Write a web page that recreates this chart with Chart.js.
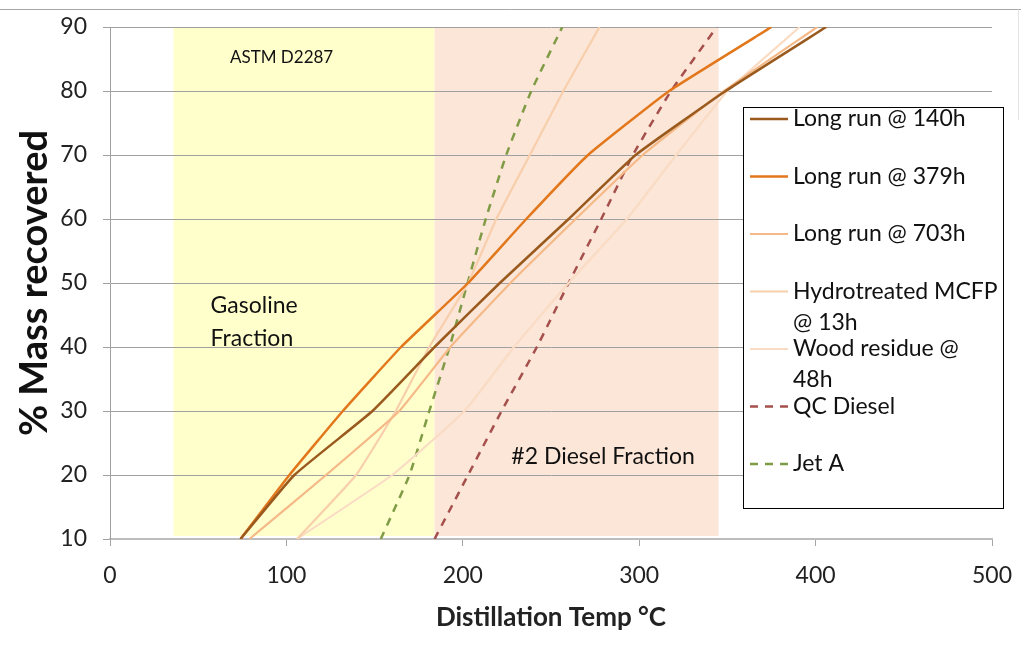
<!DOCTYPE html>
<html>
<head>
<meta charset="utf-8">
<title>Distillation curves</title>
<script src="https://cdn.jsdelivr.net/npm/chart.js@4/dist/chart.umd.min.js"></script>
<style>
  html, body { margin: 0; padding: 0; background: #fff; }
  #wrap { width: 1021px; height: 645px; position: relative; }
</style>
</head>
<body>
<div id="wrap"><canvas id="chart"></canvas></div>
<script>
// % mass recovered (y) and distillation temperature in °C (x) for each sample
const recovered = [10, 20, 30, 40, 50, 60, 70, 80, 90];
const run140 = [74, 104.5, 148.8, 184, 221, 260, 298, 349, 406];
const run379 = [74, 101.7, 132, 165, 203, 236, 271, 317, 375];
const run703 = [79, 122.5, 164, 193, 227, 264, 302, 348, 401];
const hydroMcfp = [106, 139.5, 162, 181, 203, 219, 238, 257, 277.5];
const woodResidue = [106, 160, 201, 229, 260, 293, 321, 350, 391];
const qcDiesel = [184, 203, 222, 242, 260, 278.5, 296.4, 318, 344];
const jetA = [153.5, 169.8, 181, 192.5, 202.7, 213, 224.6, 238.8, 256.4];

const xTicks = [0, 100, 200, 300, 400, 500];
const yTicks = [10, 20, 30, 40, 50, 60, 70, 80, 90];

// ASTM D2287 fraction ranges (°C)
const bandNames = ['Gasoline', '#2 Diesel'];
const bandStart = [36, 184];
const bandEnd = [184, 345];

const FONT = 'Lato, "Open Sans", sans-serif';
const bandFill = ['#ffffcc', '#fce6d8'];

const toPoints = xs => xs.map((x, i) => ({ x, y: recovered[i] }));

function series(label, xs, color, width, dash) {
    return {
        label,
        data: toPoints(xs),
        borderColor: color,
        backgroundColor: color,
        borderWidth: width,
        borderDash: dash || [],
        showLine: true,
        pointRadius: 0,
        pointHoverRadius: 0,
        tension: 0.12,
        fill: false
    };
}

const datasets = [
    series('Long run @ 140h', run140, '#9a5a1e', 2.5),
    series('Long run @ 379h', run379, '#e2771c', 2.5),
    series('Long run @ 703h', run703, '#f5b987', 2.2),
    series('Hydrotreated MCFP @ 13h', hydroMcfp, '#f8cfac', 2.2),
    series('Wood residue @ 48h', woodResidue, '#fadcc4', 2.2),
    series('QC Diesel', qcDiesel, '#a5504d', 2.5, [8, 7]),
    series('Jet A', jetA, '#7f9b45', 2.5, [8, 7])
];

// notes in data coordinates
const notes = [
    { lines: ['ASTM D2287'], x: 68, y: 85.2, size: 17, align: 'left' },
    { lines: ['Gasoline', 'Fraction'], x: 57, y: 46.4, size: 23, align: 'left' },
    { lines: ['#2 Diesel Fraction'], x: 227.5, y: 22.9, size: 23, align: 'left' }
];

const bandsPlugin = {
    id: 'bands',
    beforeDraw(chart) {
        const { ctx, chartArea, scales } = chart;
        ctx.save();
        // outer frame lines
        ctx.strokeStyle = '#a6a6a6';
        ctx.lineWidth = 1;
        ctx.beginPath();
        ctx.moveTo(0, 9.5);
        ctx.lineTo(1021, 9.5);
        ctx.stroke();
        ctx.strokeStyle = '#e4e4e4';
        ctx.beginPath();
        ctx.moveTo(1018.5, 9.5);
        ctx.lineTo(1018.5, 120);
        ctx.stroke();

        bandStart.forEach((start, i) => {
            const x0 = scales.x.getPixelForValue(start);
            const x1 = scales.x.getPixelForValue(bandEnd[i]);
            ctx.fillStyle = bandFill[i];
            ctx.fillRect(x0, chartArea.top + 1, x1 - x0, chartArea.bottom - chartArea.top - 4);
        });
        ctx.restore();
    },
    beforeDatasetsDraw(chart) {
        const { ctx, scales } = chart;
        ctx.save();
        ctx.fillStyle = '#111';
        ctx.textBaseline = 'middle';
        notes.forEach(note => {
            ctx.font = `${note.size}px ${FONT}`;
            ctx.textAlign = note.align;
            const x = scales.x.getPixelForValue(note.x);
            const y = scales.y.getPixelForValue(note.y);
            note.lines.forEach((line, j) => {
                ctx.fillText(line, x, y + j * note.size * 1.4);
            });
        });
        ctx.restore();
    }
};

const legendPlugin = {
    id: 'boxLegend',
    afterDraw(chart) {
        const ctx = chart.ctx;
        const box = { left: 743, top: 107, width: 260, height: 401 };
        ctx.save();
        ctx.fillStyle = '#fff';
        ctx.fillRect(box.left, box.top, box.width, box.height);
        ctx.strokeStyle = '#000';
        ctx.lineWidth = 1;
        ctx.strokeRect(box.left + 0.5, box.top + 0.5, box.width, box.height);

        ctx.font = `23px ${FONT}`;
        ctx.textBaseline = 'middle';
        ctx.textAlign = 'left';
        chart.data.datasets.forEach((ds, i) => {
            const y = 119 + i * 57.5;
            ctx.strokeStyle = ds.borderColor;
            ctx.lineWidth = ds.borderWidth;
            ctx.setLineDash(ds.borderDash);
            ctx.beginPath();
            ctx.moveTo(750, y);
            ctx.lineTo(788, y);
            ctx.stroke();
            ctx.setLineDash([]);

            // wrap the label to the legend width
            const words = ds.label.split(' ');
            const rows = [];
            let row = '';
            words.forEach(w => {
                const next = row ? row + ' ' + w : w;
                if (ctx.measureText(next).width > 205 && row) {
                    rows.push(row);
                    row = w;
                } else {
                    row = next;
                }
            });
            rows.push(row);
            ctx.fillStyle = '#111';
            rows.forEach((r, j) => ctx.fillText(r, 793, y + j * 31));
        });
        ctx.restore();
    }
};

const ctx = document.getElementById('chart').getContext('2d');
new Chart(ctx, {
    type: 'scatter',
    data: { datasets },
    options: {
        responsive: true,
        maintainAspectRatio: false,
        animation: false,
        layout: { padding: { top: 27, right: 29, bottom: 0, left: 0 } },
        plugins: {
            legend: { display: false },
            tooltip: { enabled: false }
        },
        scales: {
            x: {
                type: 'linear',
                min: 0,
                max: 500,
                afterFit: scale => {
                    scale.height = 106;
                    scale.paddingLeft = 0;
                    scale.paddingRight = 0;
                },
                afterBuildTicks: scale => { scale.ticks = xTicks.map(v => ({ value: v })); },
                grid: { drawOnChartArea: false, drawTicks: true, tickLength: 7, color: '#a6a6a6' },
                border: { color: '#bdbdbd', width: 2 },
                ticks: { padding: 16, color: '#222', font: { family: FONT, size: 23 } },
                title: {
                    display: true,
                    text: 'Distillation Temp °C',
                    color: '#222',
                    font: { family: FONT, size: 26, weight: 'bold' },
                    padding: { top: 0, bottom: 12 }
                }
            },
            y: {
                type: 'linear',
                min: 10,
                max: 90,
                afterFit: scale => {
                    scale.width = 110;
                    scale.paddingTop = 0;
                    scale.paddingBottom = 0;
                },
                afterBuildTicks: scale => { scale.ticks = yTicks.map(v => ({ value: v })); },
                grid: { color: '#a0a0a0', tickLength: 7, lineWidth: 1 },
                border: { color: '#a0a0a0', width: 1 },
                ticks: { padding: 16, color: '#222', font: { family: FONT, size: 23 } },
                title: {
                    display: true,
                    text: '% Mass recovered',
                    color: '#111',
                    font: { family: FONT, size: 38, weight: 'bold' },
                    padding: { top: 12, bottom: 0 }
                }
            }
        }
    },
    plugins: [bandsPlugin, legendPlugin]
});
</script>
</body>
</html>
